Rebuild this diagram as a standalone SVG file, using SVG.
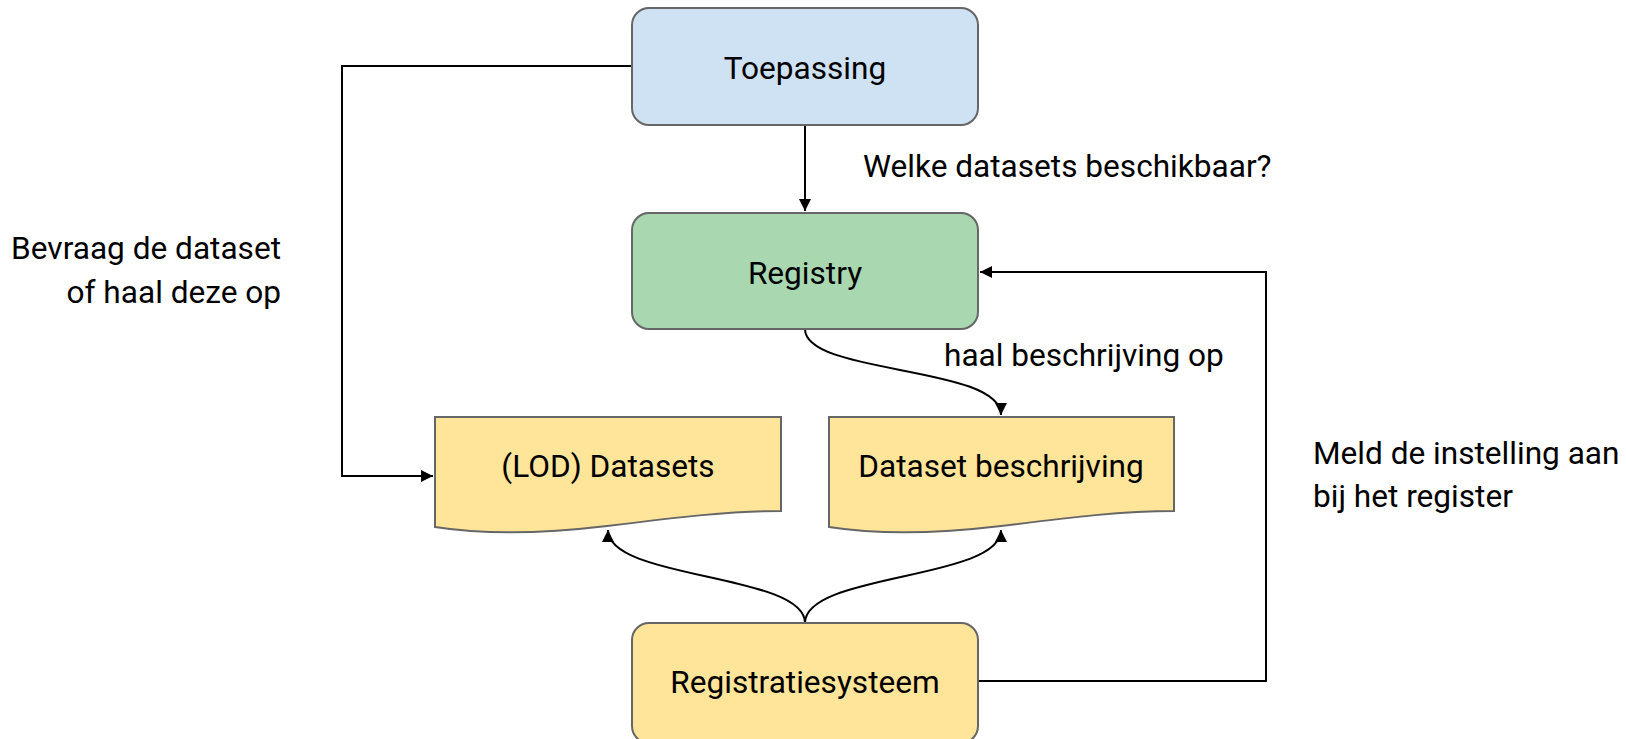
<svg xmlns="http://www.w3.org/2000/svg" width="1626" height="739" viewBox="0 0 1626 739">
<defs>
<style>
.box{stroke:#666;stroke-width:2}
.t{font-family:Roboto,"Liberation Sans",sans-serif;font-size:31.6px;fill:#000}
.c{text-anchor:middle}
.e{text-anchor:end}
.ln{fill:none;stroke:#000;stroke-width:2}
</style>
<marker id="ah" viewBox="0 0 10 10" refX="10" refY="5" markerWidth="6" markerHeight="6" markerUnits="strokeWidth" orient="auto">
<path d="M0,0 L10,5 L0,10 Z" fill="#000"/>
</marker>
</defs>
<rect width="1626" height="739" fill="#fff"/>
<g id="connectors">
<path class="ln" d="M632,66 H342 V476 H433" marker-end="url(#ah)"/>
<path class="ln" d="M805,125 V211" marker-end="url(#ah)"/>
<path class="ln" d="M805,329 C805,375 1001,365 1001,415" marker-end="url(#ah)"/>
<path class="ln" d="M805,623 C805,573 608,580 608,530" marker-end="url(#ah)"/>
<path class="ln" d="M805,623 C805,573 1001,580 1001,530" marker-end="url(#ah)"/>
<path class="ln" d="M978,681 H1266 V272 H980" marker-end="url(#ah)"/>
</g>
<g id="toepassing">
<rect class="box" x="632" y="8" width="346" height="117" rx="17" fill="#cfe2f3"/>
<text class="t c" x="805" y="79">Toepassing</text>
</g>
<g id="registry">
<rect class="box" x="632" y="213" width="346" height="116" rx="17" fill="#a8d7b0"/>
<text class="t c" x="805" y="284">Registry</text>
</g>
<g id="lod-datasets">
<path class="box" fill="#ffe599" d="M435,417 L781,417 L781,511 C730,511 680,517 607,526 C540,534 480,534 435,527 Z"/>
<text class="t c" x="608" y="477">(LOD) Datasets</text>
</g>
<g id="dataset-beschrijving">
<path class="box" fill="#ffe599" d="M829,417 L1174,417 L1174,511 C1123,511 1073,517 1001,526 C934,534 874,534 829,527 Z"/>
<text class="t c" x="1001" y="477">Dataset beschrijving</text>
</g>
<g id="registratiesysteem">
<rect class="box" x="632" y="623" width="346" height="120" rx="17" fill="#ffe599"/>
<text class="t c" x="805" y="693">Registratiesysteem</text>
</g>
<g id="labels">
<text class="t" x="863" y="177">Welke datasets beschikbaar?</text>
<text class="t e" x="281" y="259">Bevraag de dataset</text>
<text class="t e" x="281" y="303">of haal deze op</text>
<text class="t" x="944" y="366">haal beschrijving op</text>
<text class="t" x="1313" y="464">Meld de instelling aan</text>
<text class="t" x="1313" y="507">bij het register</text>
</g>
</svg>
